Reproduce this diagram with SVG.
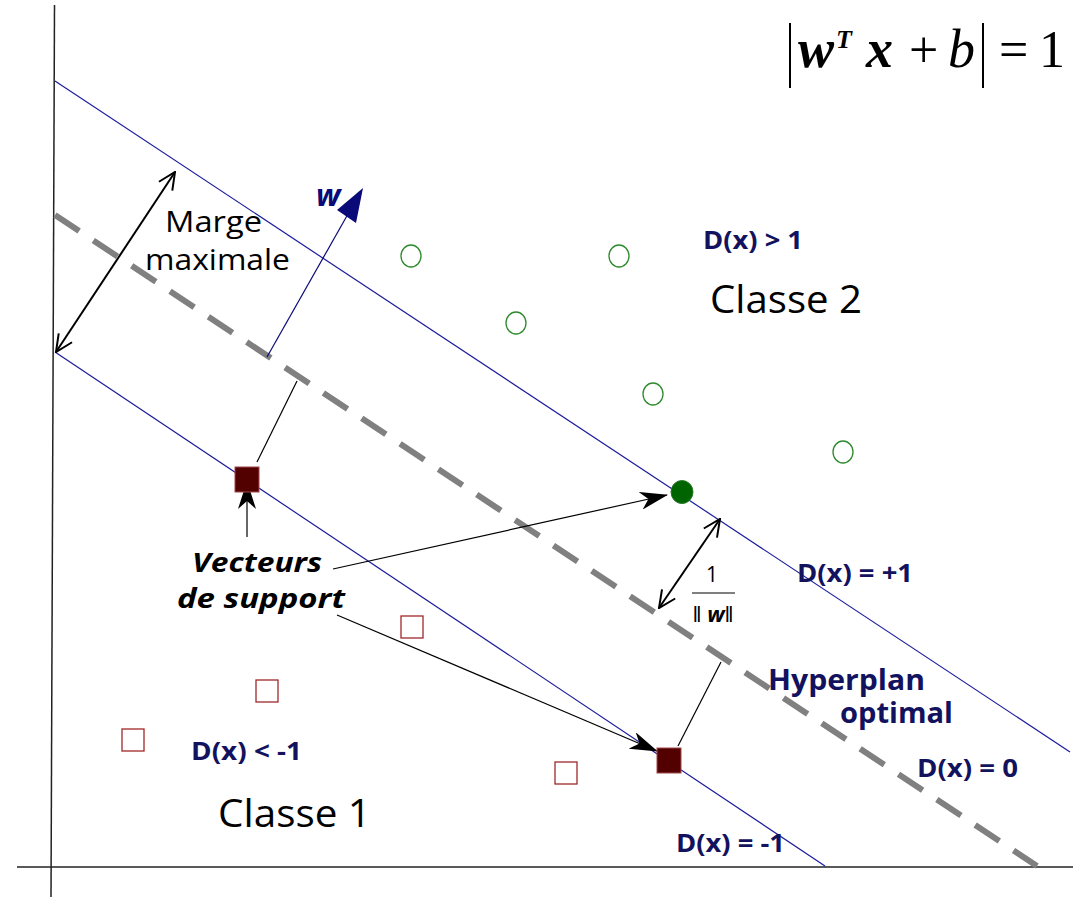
<svg xmlns="http://www.w3.org/2000/svg" width="1073" height="898" viewBox="0 0 1073 898">
<style>
.axis{stroke:#222;stroke-width:1.5;fill:none}
.margin{stroke:#1c1c9c;stroke-width:1.2;fill:none}
.hyper{stroke:#808080;stroke-width:6;stroke-dasharray:29 17;fill:none}
.dbl{stroke:#000;stroke-width:2;fill:none}
.ptr{stroke:#000;stroke-width:1.2;fill:none}
.lab{font-family:'Open Sans','Liberation Sans',sans-serif;fill:#000}
.d{font-family:'Open Sans','Liberation Sans',sans-serif;font-weight:bold;fill:#12125e;font-size:25px}
.c2{fill:none;stroke:#2f8a2f;stroke-width:1.3}
.c1{fill:none;stroke:#a02828;stroke-width:1.3}
.sv{fill:#520000;stroke:#a04848;stroke-width:1}
.math{font-family:'Liberation Serif',serif;fill:#000}
.vs{font-family:'Open Sans','Liberation Sans',sans-serif;font-weight:bold;font-style:italic;font-size:26px;fill:#000}
.hp{font-family:'Open Sans','Liberation Sans',sans-serif;font-weight:bold;font-size:28px;fill:#12125e}
</style>
<defs>
<marker id="open" viewBox="0 0 20 20" refX="19" refY="10" markerWidth="20" markerHeight="20" markerUnits="userSpaceOnUse" orient="auto-start-reverse">
<path d="M2,2 L19,10 L2,18" fill="none" stroke="#000" stroke-width="2"/>
</marker>
<marker id="stealth" viewBox="0 0 28 18" refX="27" refY="9" markerWidth="28" markerHeight="18" markerUnits="userSpaceOnUse" orient="auto">
<path d="M0,0 L28,9 L0,18 L8,9 Z" fill="#000"/>
</marker>
</defs>

<g id="axes">
<line class="axis" x1="54.5" y1="5" x2="51" y2="897"/>
<line class="axis" x1="17" y1="867" x2="1073" y2="867"/>
</g>

<g id="connectors">
<line class="margin" x1="55" y1="81" x2="1070" y2="752"/>
<line class="margin" x1="55" y1="352" x2="825" y2="866"/>
<line class="hyper" x1="55" y1="215" x2="1037" y2="866"/>
<line class="dbl" x1="56" y1="352" x2="175" y2="172" marker-start="url(#open)" marker-end="url(#open)"/>
<line class="dbl" x1="659" y1="608" x2="720" y2="519" marker-start="url(#open)" marker-end="url(#open)"/>
<line x1="267" y1="357" x2="348" y2="214" stroke="#0a0a78" stroke-width="1.2"/>
<polygon points="337,210 356,223 363,188" fill="#0a0a78"/>
<line class="ptr" x1="257" y1="462" x2="297" y2="381"/>
<line class="ptr" x1="678" y1="746" x2="721" y2="662"/>
<line class="ptr" x1="247" y1="537" x2="247" y2="482" marker-end="url(#stealth)"/>
<line class="ptr" x1="333" y1="569" x2="667" y2="495" marker-end="url(#stealth)"/>
<line class="ptr" x1="337" y1="615" x2="657" y2="751" marker-end="url(#stealth)"/>
</g>

<g id="class2-points">
<ellipse class="c2" cx="411" cy="256" rx="10" ry="11"/>
<ellipse class="c2" cx="619" cy="256" rx="10" ry="11"/>
<ellipse class="c2" cx="516" cy="323" rx="10" ry="11"/>
<ellipse class="c2" cx="653" cy="394" rx="10" ry="11"/>
<ellipse class="c2" cx="843" cy="452" rx="10" ry="11"/>
</g>
<g id="sv2"><ellipse cx="682" cy="492" rx="11" ry="11.5" fill="#006400" stroke="#2a7a2a" stroke-width="1"/></g>

<g id="class1-points">
<rect class="c1" x="401" y="616" width="22" height="22"/>
<rect class="c1" x="256" y="680" width="22" height="22"/>
<rect class="c1" x="122" y="729" width="22" height="22"/>
<rect class="c1" x="555" y="762" width="22" height="22"/>
</g>
<g id="sv1a"><rect class="sv" x="235" y="467" width="24" height="25"/></g>
<g id="sv1b"><rect class="sv" x="657" y="748" width="24" height="25"/></g>

<g id="formula">
<line x1="790" y1="23" x2="790" y2="88" stroke="#000" stroke-width="2"/>
<line x1="983" y1="23" x2="983" y2="88" stroke="#000" stroke-width="2"/>
<text class="math" x="798" y="67" font-size="54" font-weight="bold" font-style="italic">w</text>
<text class="math" x="836" y="48" font-size="26" font-weight="bold" font-style="italic">T</text>
<text class="math" x="866" y="67" font-size="54" font-weight="bold" font-style="italic">x</text>
<text class="math" x="909" y="67" font-size="52">+</text>
<text class="math" x="948" y="67" font-size="54" font-style="italic">b</text>
<text class="math" x="999" y="67" font-size="52">=</text>
<text class="math" x="1039" y="67" font-size="52">1</text>
</g>

<g id="label-w"><text x="316" y="206" font-family="'Open Sans','Liberation Sans',sans-serif" font-weight="bold" font-style="italic" font-size="31" fill="#0a0a78">w</text></g>
<g id="label-marge">
<text class="lab" x="165" y="232" font-size="30" textLength="97" lengthAdjust="spacingAndGlyphs">Marge</text>
<text class="lab" x="145" y="270" font-size="30" textLength="145" lengthAdjust="spacingAndGlyphs">maximale</text>
</g>
<g id="label-classe2"><text class="lab" x="710" y="313" font-size="39" textLength="152" lengthAdjust="spacingAndGlyphs">Classe 2</text></g>
<g id="label-classe1"><text class="lab" x="218" y="827" font-size="39" textLength="153" lengthAdjust="spacingAndGlyphs">Classe 1</text></g>
<g id="label-vecteurs">
<text class="vs" x="192" y="572" textLength="130" lengthAdjust="spacingAndGlyphs">Vecteurs</text>
<text class="vs" x="177" y="608" textLength="168" lengthAdjust="spacingAndGlyphs">de support</text>
</g>
<g id="label-invnorm">
<text class="lab" x="712" y="582" font-size="21" text-anchor="middle">1</text>
<line x1="692" y1="593" x2="735" y2="593" stroke="#000" stroke-width="1"/>
<text class="lab" x="713" y="622" font-size="22" text-anchor="middle" fill="#444">‖ <tspan font-weight="bold" font-style="italic" fill="#000">w</tspan>‖</text>
</g>
<g id="label-d-gt1"><text class="d" x="703" y="249" textLength="100" lengthAdjust="spacingAndGlyphs">D(x) &gt; 1</text></g>
<g id="label-d-p1"><text class="d" x="797" y="582" textLength="116" lengthAdjust="spacingAndGlyphs">D(x) = +1</text></g>
<g id="label-d-lt1"><text class="d" x="191" y="760" textLength="111" lengthAdjust="spacingAndGlyphs">D(x) &lt; -1</text></g>
<g id="label-d-0"><text class="d" x="917" y="777" textLength="101" lengthAdjust="spacingAndGlyphs">D(x) = 0</text></g>
<g id="label-d-m1"><text class="d" x="676" y="852" textLength="109" lengthAdjust="spacingAndGlyphs">D(x) = -1</text></g>
<g id="label-hyper">
<text class="hp" x="768" y="690" textLength="157" lengthAdjust="spacingAndGlyphs">Hyperplan</text>
<text class="hp" x="840" y="723" textLength="113" lengthAdjust="spacingAndGlyphs">optimal</text>
</g>
</svg>
